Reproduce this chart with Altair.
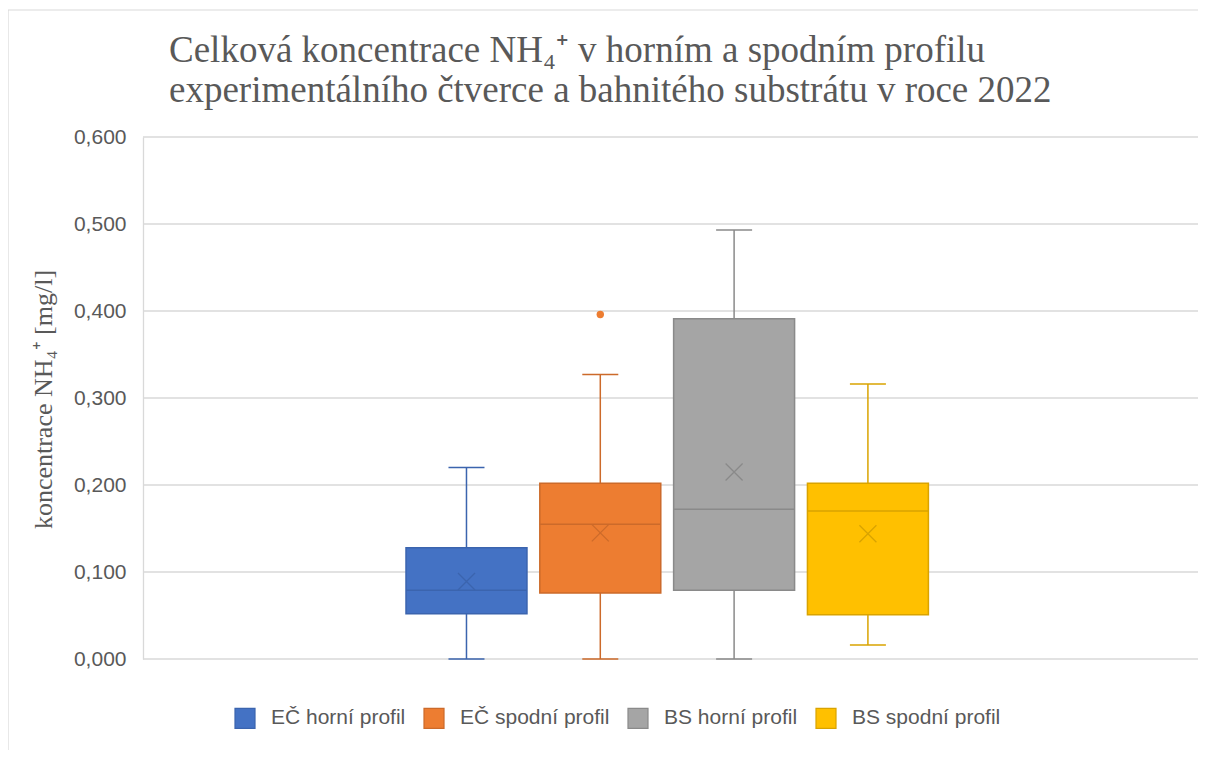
import altair as alt
import pandas as pd

series = ["EČ horní profil", "EČ spodní profil", "BS horní profil", "BS spodní profil"]
minimum = [0.000, 0.000, 0.000, 0.016]
q1 = [0.052, 0.076, 0.079, 0.051]
median = [0.079, 0.155, 0.172, 0.170]
q3 = [0.128, 0.202, 0.391, 0.202]
maximum = [0.220, 0.327, 0.493, 0.316]
mean = [0.089, 0.145, 0.215, 0.144]
outlier_series = ["EČ spodní profil"]
outlier_values = [0.396]
fill_colors = ["#4472C4", "#ED7D31", "#A5A5A5", "#FFC000"]
stroke_colors = ["#3B64AE", "#CC6A2A", "#8A8A8A", "#D9A300"]
y_ticks = [0.0, 0.1, 0.2, 0.3, 0.4, 0.5, 0.6]
title_lines = ["Celková koncentrace NH₄⁺ v horním a spodním profilu",
               "experimentálního čtverce a bahnitého substrátu v roce 2022"]

df = pd.DataFrame({"series": series, "lo": minimum, "q1": q1, "med": median,
                   "q3": q3, "hi": maximum, "mean": mean})
out_df = pd.DataFrame({"series": outlier_series, "value": outlier_values})
grid_df = pd.DataFrame({"v": y_ticks})
one = pd.DataFrame({"a": [0]})

SANS = "Liberation Sans"
SERIF = "Liberation Serif"
TXT = "#595959"
GRID = "#D9D9D9"
W, H = 1055, 522

leg = alt.Legend(title=None, orient="none", legendX=91, legendY=570, direction="horizontal",
                 symbolType="square", symbolSize=400, symbolStrokeWidth=1.2,
                 labelFont=SANS, labelFontSize=21, labelColor=TXT, labelOffset=15,
                 columnPadding=15)

x_enc = alt.X("series:N", sort=series, axis=None,
              scale=alt.Scale(paddingInner=0.096, paddingOuter=0, range=[263, 785.4]))
color_enc = alt.Color("series:N", sort=series, scale=alt.Scale(domain=series, range=fill_colors), legend=leg)
stroke_enc = alt.Stroke("series:N", sort=series, scale=alt.Scale(domain=series, range=stroke_colors), legend=leg)
y_scale = alt.Scale(domain=[0, 0.6], nice=False)
y_axis = alt.Axis(values=y_ticks, labelExpr="replace(format(datum.value, '.3f'), '.', ',')",
                  ticks=False, tickSize=0, labelPadding=17, labelFont=SANS, labelFontSize=21,
                  labelColor=TXT, grid=False,
                  domain=True, domainColor=GRID, domainWidth=1.3,
                  title="koncentrace NH₄⁺ [mg/l]", titleFont=SERIF, titleFontSize=26,
                  titleFontWeight="normal", titleColor=TXT, titleAngle=270,
                  titleBaseline="bottom", titleX=-87, titleY=262)

grid = alt.Chart(grid_df).mark_rule(color=GRID, strokeWidth=1.3).encode(
    y=alt.Y("v:Q", scale=y_scale, axis=y_axis), x=alt.value(0), x2=alt.value(W))

base = alt.Chart(df)

boxes = base.mark_bar(strokeWidth=1.5).encode(
    x=x_enc, y=alt.Y("q1:Q", scale=y_scale), y2="q3:Q",
    color=color_enc, stroke=stroke_enc)

w_low = base.mark_rule(strokeWidth=1.5).encode(x=x_enc, y="lo:Q", y2="q1:Q", stroke=stroke_enc)
w_high = base.mark_rule(strokeWidth=1.5).encode(x=x_enc, y="q3:Q", y2="hi:Q", stroke=stroke_enc)

hline = "M-1,0L1,0"
cap_low = base.mark_point(shape=hline, size=36 * 36, filled=False, strokeWidth=1.5, opacity=1).encode(
    x=x_enc, y="lo:Q", stroke=stroke_enc)
cap_high = base.mark_point(shape=hline, size=36 * 36, filled=False, strokeWidth=1.5, opacity=1).encode(
    x=x_enc, y="hi:Q", stroke=stroke_enc)
med = base.mark_point(shape=hline, size=121 * 121, filled=False, strokeWidth=1.5, opacity=1).encode(
    x=x_enc, y="med:Q", stroke=stroke_enc)
mean_pt = base.mark_point(shape="M-1,-1L1,1M-1,1L1,-1", size=17 * 17, filled=False,
                          strokeWidth=1.3, opacity=1).encode(x=x_enc, y="mean:Q", stroke=stroke_enc)

outl = alt.Chart(out_df).mark_point(filled=True, size=55, opacity=1, shape="circle").encode(
    x=x_enc, y="value:Q", color=color_enc)

# chart-area frame (top and left edges visible in the reference)
frame_top = alt.Chart(one).mark_rule(color=GRID, strokeWidth=1.2).encode(
    x=alt.value(-135), x2=alt.value(W + 20), y=alt.value(-127))
frame_left = alt.Chart(one).mark_rule(color=GRID, strokeWidth=1.2).encode(
    x=alt.value(-135), y=alt.value(-127), y2=alt.value(640))

title_txt = alt.Chart(one).mark_text(align="left", baseline="alphabetic", font=SERIF, fontSize=37,
                                     color=TXT, lineHeight=40).encode(
    x=alt.value(26), y=alt.value(-75), text=alt.value(title_lines))

chart = alt.layer(grid, frame_top, frame_left, title_txt, boxes, w_low, w_high, cap_low, cap_high,
                  med, mean_pt, outl).properties(
    width=W, height=H,
    autosize=alt.AutoSizeParams(type="none"),
    padding={"left": 135, "top": 129, "right": 0, "bottom": 91},
    background="white",
).configure_view(stroke=None)

chart.save("out.html", embed_options={"renderer": "svg", "actions": False})
